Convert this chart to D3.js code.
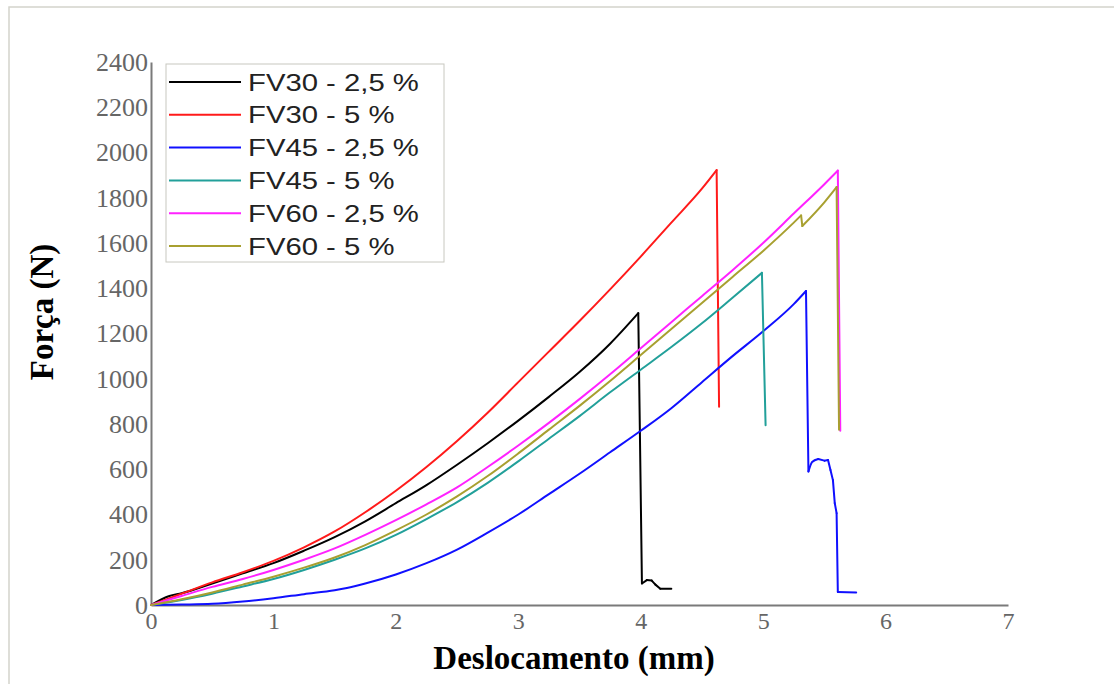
<!DOCTYPE html>
<html lang="pt">
<head>
<meta charset="UTF-8">
<title>Força x Deslocamento</title>
<script src="https://d3js.org/d3.v7.min.js"></script>
<style>
    body { margin: 0; background: #fff; }
    svg { display: block; }
    .tick text { font-family: "Liberation Serif", "DejaVu Serif", serif; fill: #666; }
    .axis path, .axis line { stroke: #7a7a7a; }
    .axis-title { font-family: "Liberation Serif", serif; font-weight: bold; fill: #000; }
    .legend text { font-family: "Liberation Sans", Arial, sans-serif; fill: #222; }
</style>
</head>
<body>
<div id="chart"></div>
<script>
    // Deslocamento (mm) / Força (N)
    const fv30_25_x = [0, 0.15, 0.25, 0.5, 0.75, 1, 1.25, 1.5, 1.75, 2, 2.25, 2.5, 2.75, 3, 3.25, 3.5, 3.75, 3.98, 4.01, 4.05, 4.09, 4.12, 4.16, 4.25];
    const fv30_25_y = [0, 40, 52, 95, 140, 185, 240, 300, 370, 450, 530, 620, 715, 815, 920, 1030, 1155, 1290, 95, 110, 108, 90, 72, 72];

    const fv30_5_x = [0, 0.25, 0.5, 0.75, 1, 1.25, 1.5, 1.75, 2, 2.25, 2.5, 2.75, 3, 3.25, 3.5, 3.75, 4, 4.25, 4.5, 4.62, 4.64];
    const fv30_5_y = [0, 50, 100, 145, 195, 255, 325, 410, 505, 610, 725, 850, 985, 1120, 1255, 1395, 1540, 1690, 1840, 1922, 876];

    const fv45_25_x = [0, 0.25, 0.5, 0.75, 1, 1.25, 1.5, 1.6, 1.75, 2, 2.25, 2.5, 2.75, 3, 3.25, 3.5, 3.75, 4, 4.25, 4.5, 4.75, 5, 5.25, 5.35, 5.37, 5.4, 5.45, 5.5, 5.53, 5.55, 5.57, 5.585, 5.6, 5.61, 5.76];
    const fv45_25_y = [0, 2, 5, 15, 30, 48, 65, 75, 95, 135, 185, 245, 320, 400, 490, 580, 675, 770, 870, 985, 1100, 1210, 1330, 1388, 590, 632, 645, 638, 641, 597, 552, 450, 406, 58, 55];

    const fv45_5_x = [0, 0.25, 0.5, 0.75, 1, 1.25, 1.5, 1.75, 2, 2.25, 2.5, 2.75, 3, 3.25, 3.5, 3.75, 4, 4.25, 4.5, 4.75, 4.99, 5.02];
    const fv45_5_y = [0, 22, 50, 82, 115, 155, 200, 250, 310, 380, 455, 540, 635, 735, 835, 940, 1040, 1140, 1245, 1358, 1468, 795];

    const fv60_25_x = [0, 0.25, 0.5, 0.75, 1, 1.25, 1.5, 1.75, 2, 2.25, 2.5, 2.75, 3, 3.25, 3.5, 3.75, 4, 4.25, 4.5, 4.75, 5, 5.25, 5.5, 5.61, 5.63];
    const fv60_25_y = [0, 40, 80, 115, 155, 200, 250, 310, 375, 445, 520, 610, 705, 805, 910, 1020, 1135, 1250, 1365, 1480, 1600, 1730, 1860, 1920, 770];

    const fv60_5_x = [0, 0.25, 0.5, 0.75, 1, 1.25, 1.5, 1.75, 2, 2.25, 2.5, 2.75, 3, 3.25, 3.5, 3.75, 4, 4.25, 4.5, 4.75, 5, 5.25, 5.31, 5.32, 5.5, 5.6, 5.62];
    const fv60_5_y = [0, 25, 55, 90, 125, 165, 210, 265, 330, 400, 480, 570, 670, 775, 880, 990, 1105, 1220, 1335, 1450, 1565, 1690, 1722, 1675, 1780, 1847, 775];

    const seriesNames = ["FV30 - 2,5 %", "FV30 - 5 %", "FV45 - 2,5 %", "FV45 - 5 %", "FV60 - 2,5 %", "FV60 - 5 %"];
    const seriesColors = ["#000000", "#ff1a1a", "#1010ff", "#22a09a", "#ff22ff", "#a8a030"];
    const seriesX = [fv30_25_x, fv30_5_x, fv45_25_x, fv45_5_x, fv60_25_x, fv60_5_x];
    const seriesY = [fv30_25_y, fv30_5_y, fv45_25_y, fv45_5_y, fv60_25_y, fv60_5_y];

    const xTicks = [0, 1, 2, 3, 4, 5, 6, 7];
    const yTicks = [0, 200, 400, 600, 800, 1000, 1200, 1400, 1600, 1800, 2000, 2200, 2400];

    const W = 1114, H = 684;

    const svg = d3.select("#chart").append("svg")
        .attr("width", W)
        .attr("height", H);

    // light frame (top and left edges visible in the picture)
    svg.append("path")
        .attr("d", `M9,${H} L9,7 L${W},7`)
        .attr("fill", "none")
        .attr("stroke", "#d4d4cc")
        .attr("stroke-width", 1.5);

    const x = d3.scaleLinear().domain([0, 7]).range([151, 1008]);
    const y = d3.scaleLinear().domain([0, 2400]).range([605, 62]);

    // axes
    const xAxis = svg.append("g")
        .attr("class", "axis")
        .attr("transform", `translate(0,${y(0)})`)
        .call(d3.axisBottom(x).tickValues(xTicks).tickFormat(d3.format("d"))
            .tickSize(0).tickPadding(6).tickSizeOuter(0));
    xAxis.select(".domain").attr("stroke-width", 2);
    xAxis.selectAll("text").style("font-size", "24px").attr("dy", "0.75em");

    const yAxis = svg.append("g")
        .attr("class", "axis")
        .attr("transform", `translate(${x(0)},0)`)
        .call(d3.axisLeft(y).tickValues(yTicks).tickFormat(d3.format("d"))
            .tickSize(0).tickPadding(3).tickSizeOuter(0));
    yAxis.select(".domain").attr("stroke-width", 2);
    yAxis.selectAll("text").style("font-size", "26px");

    // curves: smooth where the load rises, straight steps where it drops
    const rise = d3.line()
        .x(d => x(d[0]))
        .y(d => y(d[1]))
        .curve(d3.curveMonotoneX);
    const fall = d3.line()
        .x(d => x(d[0]))
        .y(d => y(d[1]));

    seriesNames.forEach((name, i) => {
        const pts = seriesX[i].map((v, j) => [v, seriesY[i][j]]);
        const g = svg.append("g")
            .attr("fill", "none")
            .attr("stroke", seriesColors[i])
            .attr("stroke-width", 2)
            .attr("stroke-linejoin", "round")
            .attr("stroke-linecap", "round");
        let start = 0;
        for (let j = 1; j <= pts.length; j++) {
            const drops = j < pts.length && pts[j][1] < pts[j - 1][1];
            if (j === pts.length || drops) {
                if (j - 1 > start) g.append("path").attr("d", rise(pts.slice(start, j)));
                if (drops) g.append("path").attr("d", fall([pts[j - 1], pts[j]]));
                start = j;
            }
        }
    });

    // axis titles
    svg.append("text")
        .attr("class", "axis-title")
        .attr("transform", `translate(53,312) rotate(-90)`)
        .attr("text-anchor", "middle")
        .style("font-size", "33px")
        .text("Força (N)");

    svg.append("text")
        .attr("class", "axis-title")
        .attr("x", 574)
        .attr("y", 669)
        .attr("text-anchor", "middle")
        .style("font-size", "33px")
        .text("Deslocamento (mm)");

    // legend
    const legend = svg.append("g").attr("class", "legend");
    legend.append("rect")
        .attr("x", 166).attr("y", 64)
        .attr("width", 278).attr("height", 198)
        .attr("fill", "#fff")
        .attr("stroke", "#c8c8c0")
        .attr("stroke-width", 1);

    seriesNames.forEach((name, i) => {
        const ry = 82 + i * 32.8;
        legend.append("line")
            .attr("x1", 169).attr("x2", 241)
            .attr("y1", ry).attr("y2", ry)
            .attr("stroke", seriesColors[i])
            .attr("stroke-width", 2);
        legend.append("text")
            .attr("transform", `translate(248,${ry}) scale(1.22,1)`)
            .attr("dy", "0.36em")
            .style("font-size", "24px")
            .text(name);
    });
</script>
</body>
</html>
